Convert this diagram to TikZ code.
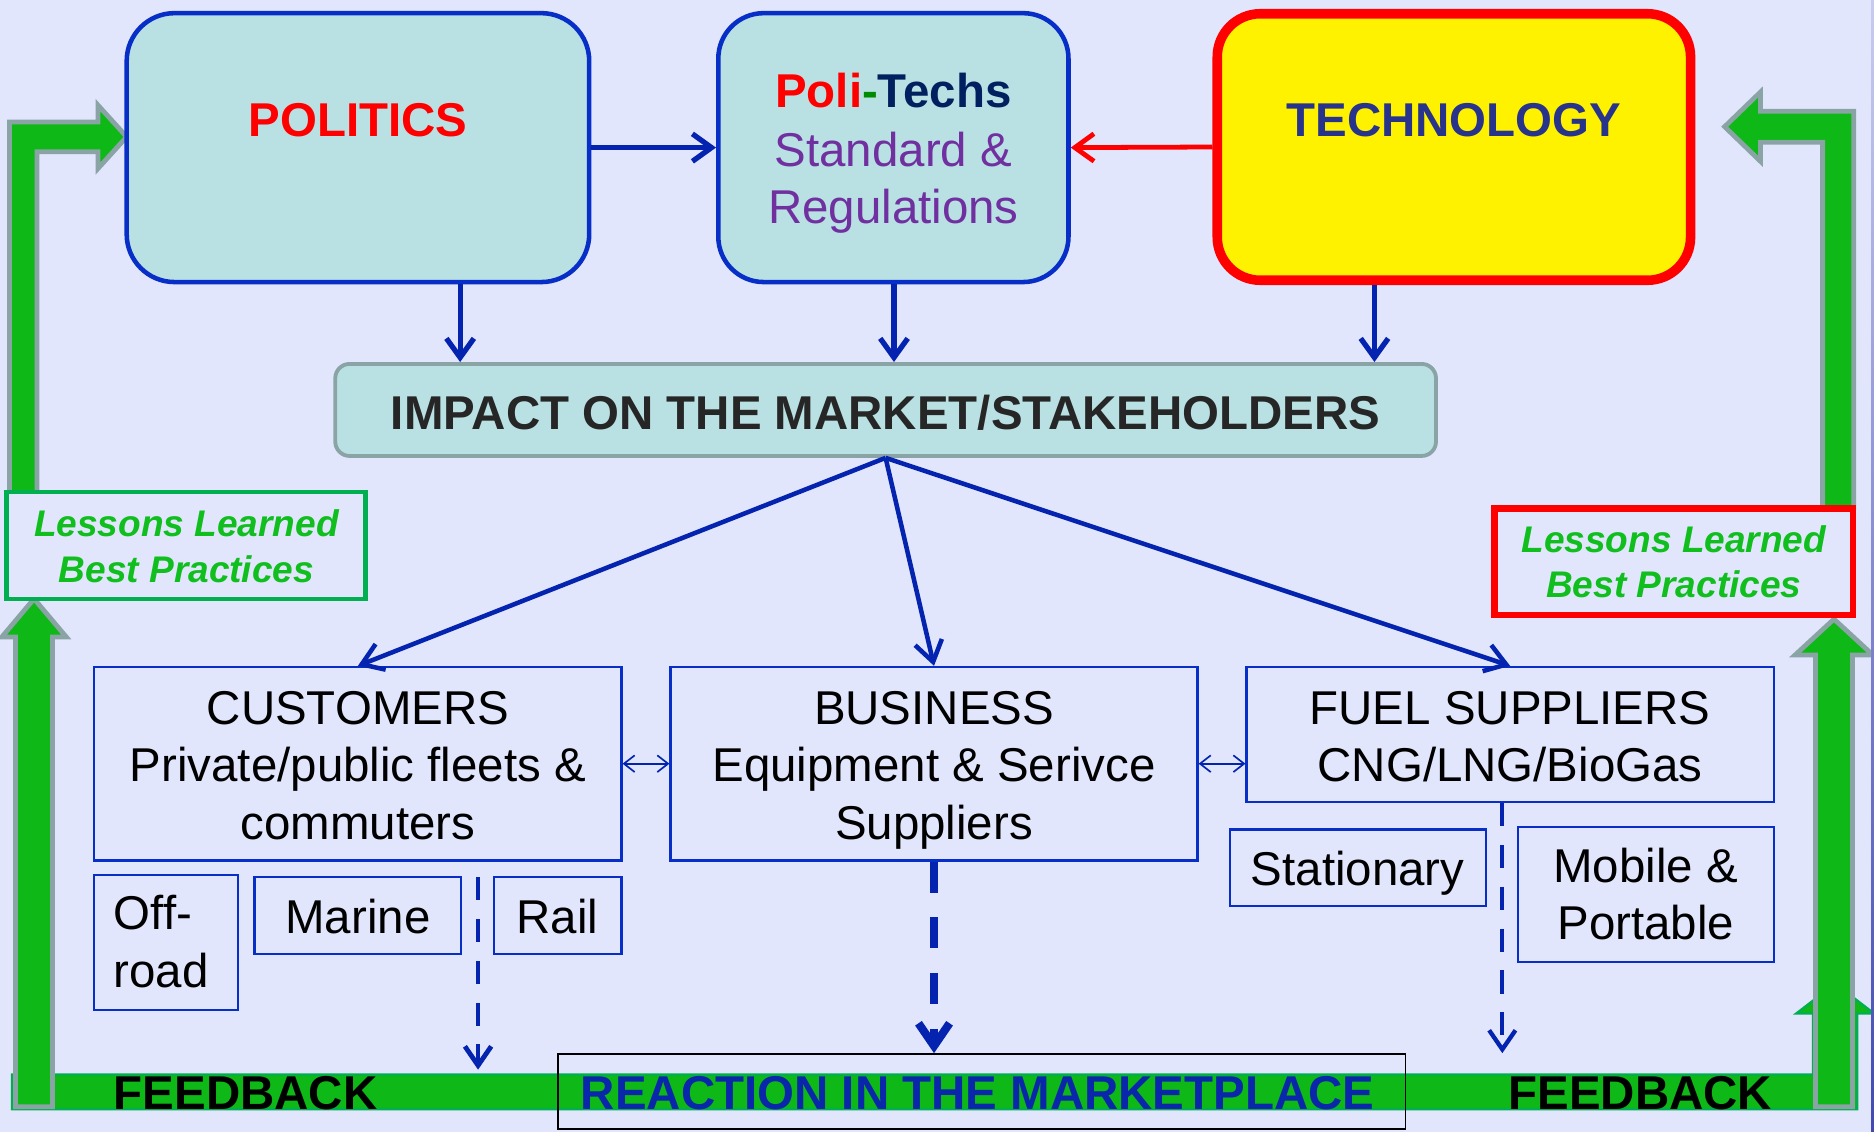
\documentclass[tikz,border=0pt]{standalone}
\usepackage{fontspec}
\setmainfont{Liberation Sans}
\usetikzlibrary{arrows.meta}

\definecolor{bgc}{RGB}{225,230,252}
\definecolor{tealf}{RGB}{185,224,227}
\definecolor{bdblue}{RGB}{8,46,200}
\definecolor{arblue}{RGB}{4,36,176}
\definecolor{grayb}{RGB}{138,164,166}
\definecolor{gfill}{RGB}{14,184,22}
\definecolor{gline}{RGB}{0,176,80}
\definecolor{techtxt}{RGB}{40,52,140}
\definecolor{navy}{RGB}{0,32,96}
\definecolor{dashgreen}{RGB}{0,140,0}
\definecolor{purp}{RGB}{112,48,160}
\definecolor{impacttxt}{RGB}{38,38,38}
\definecolor{reacttxt}{RGB}{10,38,170}
\definecolor{lessgreen}{RGB}{16,190,30}
\definecolor{stripTop}{RGB}{200,204,240}
\definecolor{stripBot}{RGB}{66,74,178}

\newcommand\mainsz{\fontsize{39.7pt}{48.5pt}\selectfont}
\newcommand\lesssz{\fontsize{31pt}{38pt}\selectfont\bfseries\itshape}

\begin{document}
\begin{tikzpicture}[x=1pt,y=-1pt,
  topbox/.style={draw=bdblue, fill=tealf, line width=3.8pt, rounded corners=40pt, inner sep=0pt},
  techbox/.style={draw=red, fill=yellow, line width=8pt, rounded corners=36pt, inner sep=0pt},
  impbox/.style={draw=grayb, fill=tealf, line width=3.2pt, rounded corners=12pt, inner sep=0pt},
  thinbox/.style={draw=bdblue, line width=1.8pt, inner sep=0pt},
  lessbox/.style={fill=bgc, inner sep=0pt, minimum width=300pt, minimum height=89.5pt},
  txt/.style={inner sep=0pt, anchor=base, font=\mainsz},
  ltxt/.style={inner sep=0pt, anchor=base west, font=\mainsz},
  btxt/.style={inner sep=0pt, anchor=base, font=\mainsz\bfseries},
  lesstxt/.style={inner sep=0pt, anchor=base, font=\lesssz, text=lessgreen},
  solidarr/.style={draw=arblue, line width=4.4pt, -{Straight Barb[length=16pt,width=23pt]}},
  diagarr/.style={draw=arblue, line width=3.8pt, -{Straight Barb[length=17pt,width=23pt]}},
  duoarr/.style={draw=arblue, line width=1.4pt,
    {Straight Barb[length=9pt,width=14pt]}-{Straight Barb[length=9pt,width=14pt]}},
  dasharr/.style={draw=arblue, line width=4pt, dash pattern=on 19.5pt off 15.5pt,
    -{Straight Barb[length=16pt,width=22pt]}},
  bigdasharr/.style={draw=arblue, line width=6.8pt, dash pattern=on 26pt off 20.6pt,
    -{Straight Barb[length=19pt,width=26pt]}},
  blockarrow/.style={fill=gfill, draw=grayb, line width=4pt, line join=miter},
  feedbar/.style={fill=gfill, draw=gline, line width=2pt, line join=miter}]

% canvas
\fill[bgc] (0,0) rectangle (1568,947);
\useasboundingbox (0,0) rectangle (1568,947);

% feedback band along the bottom, turning up on the right
\filldraw[feedbar] (10,899) -- (1517,899) -- (1517,848) -- (1503,848) -- (1535.5,823)
  -- (1568,848) -- (1554,848) -- (1554,928) -- (10,928) -- cycle;

% block arrows of the feedback loop
\filldraw[blockarrow] (8,412) -- (8,102) -- (82,102) -- (82,88) -- (106,114.5)
  -- (82,141) -- (82,127) -- (31,127) -- (31,412) -- cycle;
\filldraw[blockarrow] (1551,425) -- (1551,93) -- (1473,93) -- (1473,77) -- (1443,106)
  -- (1473,135) -- (1473,119) -- (1525,119) -- (1525,425) -- cycle;
\filldraw[blockarrow] (13,926) -- (13,533) -- (1.5,533) -- (28.5,501) -- (55.5,533)
  -- (44,533) -- (44,926) -- cycle;
\filldraw[blockarrow] (1519,926) -- (1519,548) -- (1502,548) -- (1534.5,518) -- (1567,548)
  -- (1550,548) -- (1550,926) -- cycle;

% lessons learned boxes
\node[lessbox, draw=gline, line width=4pt] (lessL) at (155.5,456.5) {};
\node[lesstxt] (lessL1) at (156,449) {Lessons Learned};
\node[lesstxt] (lessL2) at (156,487) {Best Practices};
\node[lessbox, draw=red, line width=5.5pt] (lessR) at (1400.5,470) {};
\node[lesstxt] (lessR1) at (1400.5,462) {Lessons Learned};
\node[lesstxt] (lessR2) at (1400.5,500) {Best Practices};

% top row
\node[topbox, minimum width=387pt, minimum height=225pt] (pol) at (299.5,123.5) {};
\node[btxt, text=red] (poltxt) at (299.5,114) {POLITICS};

\node[topbox, minimum width=293pt, minimum height=225pt, rounded corners=38pt] (pt) at (747.5,123.5) {};
\node[btxt] (pt1) at (747.5,90) {\textcolor{red}{Poli}\textcolor{dashgreen}{-}\textcolor{navy}{Techs}};
\node[txt, text=purp] (pt2) at (747.5,139) {Standard \&};
\node[txt, text=purp] (pt3) at (747.5,187) {Regulations};

\node[techbox, minimum width=396pt, minimum height=223pt] (tech) at (1216.5,123) {};
\node[btxt, text=techtxt] (techtxt) at (1216.5,114) {TECHNOLOGY};

% market impact
\node[impbox, minimum width=921pt, minimum height=77pt] (impact) at (741,343) {};
\node[btxt, text=impacttxt] (imptxt) at (741,359) {IMPACT ON THE MARKET/STAKEHOLDERS};

\coordinate (c1) at (385,0);
\coordinate (c2) at (748,0);
\coordinate (c3) at (1150,0);

\draw[solidarr] (pol.east) -- (pt.west);
\draw[solidarr, draw=red, line width=4pt] (tech.west) -- (pt.east);
\draw[solidarr] (pol.south -| c1) -- (impact.north -| c1);
\draw[solidarr] (pt.south -| c2) -- (impact.north -| c2);
\draw[solidarr] (tech.south -| c3) -- (impact.north -| c3);

% stakeholder groups
\node[thinbox, minimum width=441pt, minimum height=162pt] (cust) at (299.5,639) {};
\node[txt] (cust1) at (299.5,606) {CUSTOMERS};
\node[txt] (cust2) at (299.5,654) {Private/public fleets \&};
\node[txt] (cust3) at (299.5,702) {commuters};

\node[thinbox, minimum width=441pt, minimum height=162pt] (bus) at (781.5,639) {};
\node[txt] (bus1) at (781.5,606) {BUSINESS};
\node[txt] (bus2) at (781.5,654) {Equipment \& Serivce};
\node[txt] (bus3) at (781.5,702) {Suppliers};

\node[thinbox, minimum width=441pt, minimum height=113pt] (fuel) at (1263.5,614.5) {};
\node[txt] (fuel1) at (1263.5,606) {FUEL SUPPLIERS};
\node[txt] (fuel2) at (1263.5,654) {CNG/LNG/BioGas};

\draw[diagarr] (impact.south) -- (cust.north);
\draw[diagarr] (impact.south) -- (bus.north);
\draw[diagarr] (impact.south) -- (fuel.north);

\draw[duoarr] (cust.east) -- (bus.west);
\draw[duoarr] (bus.east) -- (bus.east -| fuel.west);

% sub-segments
\node[thinbox, minimum width=120pt, minimum height=113pt] (offroad) at (139,788.5) {};
\node[ltxt] (off1) at (95,778) {Off-};
\node[ltxt] (off2) at (95,826) {road};
\node[thinbox, minimum width=173pt, minimum height=64pt] (marine) at (299.5,766) {};
\node[txt] (marinetxt) at (299.5,781) {Marine};
\node[thinbox, minimum width=107pt, minimum height=64pt] (rail) at (466.5,766) {};
\node[txt] (railtxt) at (466.5,781) {Rail};
\node[thinbox, minimum width=214pt, minimum height=64pt] (stat) at (1136,726) {};
\node[txt] (stattxt) at (1136,741) {Stationary};
\node[thinbox, minimum width=214pt, minimum height=113pt] (mob) at (1377,748.5) {};
\node[txt] (mob1) at (1377,738) {Mobile \&};
\node[txt] (mob2) at (1377,786.5) {Portable};

% marketplace reaction
\node[draw=black, line width=1.6pt, inner sep=0pt, minimum width=709pt, minimum height=63pt] (react) at (821.5,913.5) {};
\node[btxt, text=reacttxt] (reacttxt) at (818,928) {REACTION IN THE MARKETPLACE};
\node[btxt, anchor=base west] (fbL) at (95,928) {FEEDBACK};
\node[btxt, anchor=base west] (fbR) at (1262,928) {FEEDBACK};

\coordinate (cx) at (400,0);
\coordinate (custend) at (400,895);
\coordinate (fx) at (1257,0);
\draw[dasharr, dash phase=22pt] (cust.south -| cx) -- (custend);
\draw[bigdasharr] (bus.south) -- (bus.south |- react.north);
\draw[dasharr, line width=3.6pt] (fuel.south -| fx) -- (react.north -| fx);

% right edge strip
\shade[top color=stripTop, bottom color=stripBot] (1565.5,0) rectangle (1568,947);
\end{tikzpicture}
\end{document}
